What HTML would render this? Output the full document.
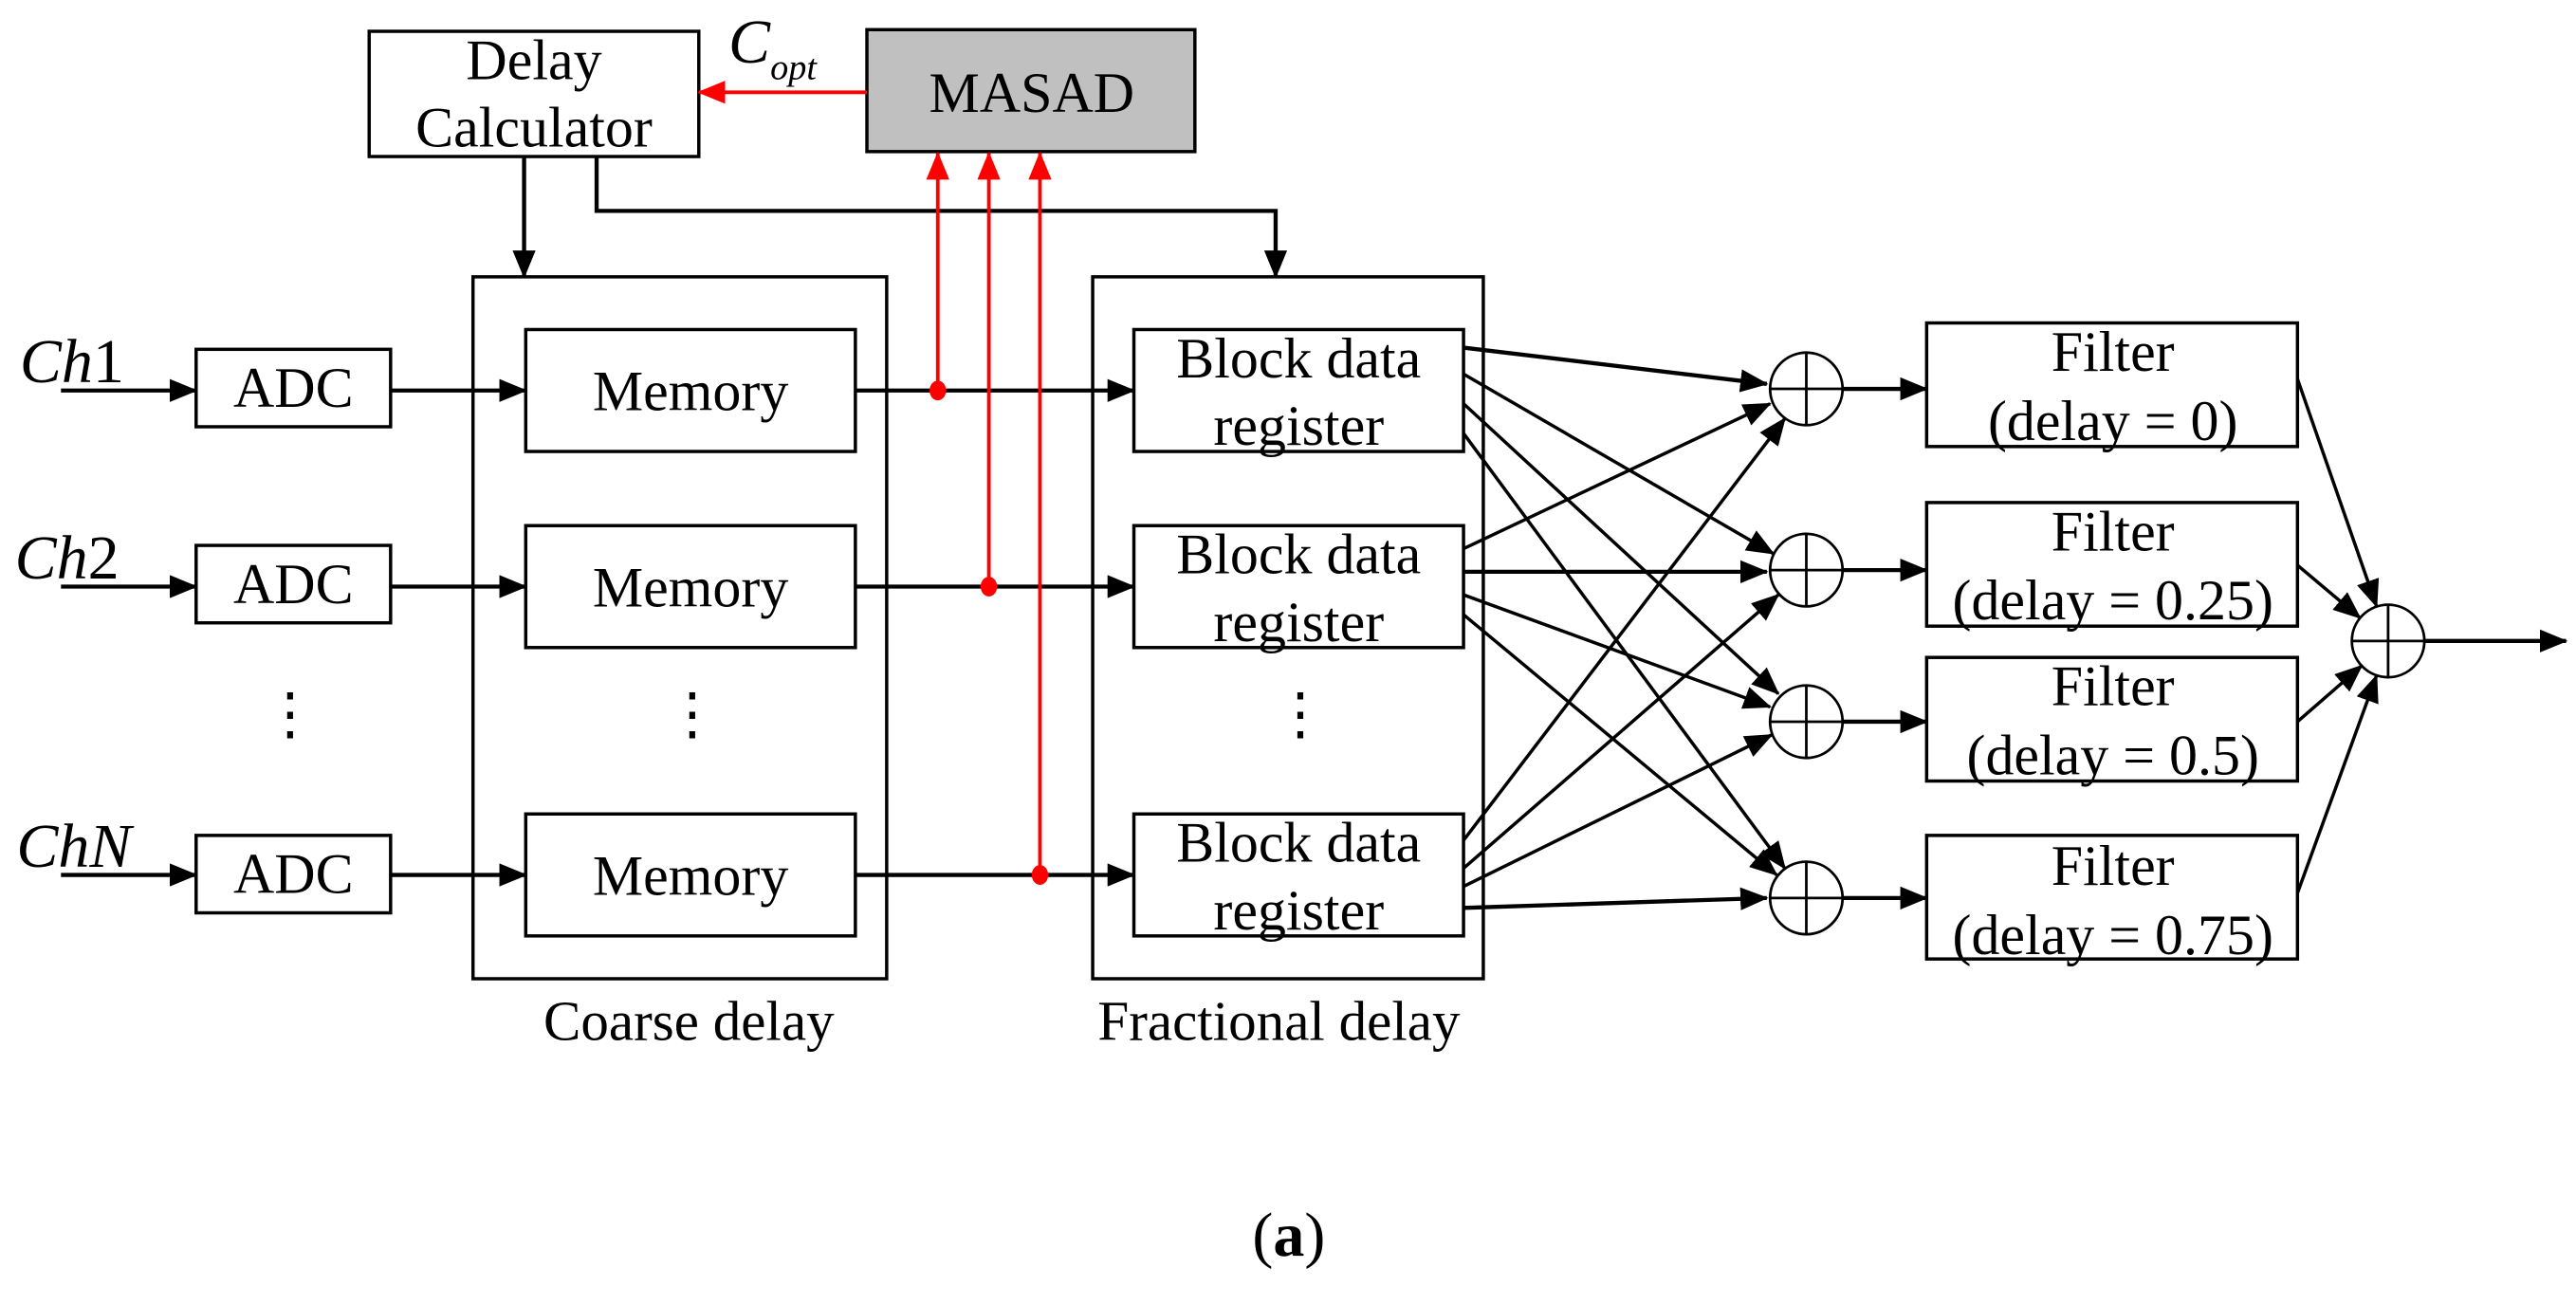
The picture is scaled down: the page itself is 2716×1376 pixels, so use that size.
<!DOCTYPE html>
<html><head><meta charset="utf-8"><style>
html,body{margin:0;padding:0;background:#fff;}
svg{display:block;}
text{font-family:"Liberation Serif",serif;fill:#000;}
</style></head><body>
<svg width="2716" height="1376" viewBox="0 0 1563 792" preserveAspectRatio="none" xmlns="http://www.w3.org/2000/svg">
<defs>
<marker id="a" markerUnits="userSpaceOnUse" markerWidth="17" markerHeight="14" refX="16" refY="7" orient="auto"><path d="M0,0 L17,7 L0,14 z" fill="#000"/></marker>
<marker id="r" markerUnits="userSpaceOnUse" markerWidth="17" markerHeight="14" refX="16" refY="7" orient="auto"><path d="M0,0 L17,7 L0,14 z" fill="#f00"/></marker>
</defs>
<g fill="none" stroke="#000" stroke-width="2">
<rect x="224" y="19" width="200" height="76"/>
<rect x="526" y="18" width="199" height="74" fill="#c0c0c0"/>
<rect x="287" y="168" width="251" height="426"/>
<rect x="663" y="168" width="237" height="426"/>
<rect x="319" y="200" width="200" height="74"/>
<rect x="319" y="319" width="200" height="74"/>
<rect x="319" y="494" width="200" height="74"/>
<rect x="688" y="200" width="200" height="74"/>
<rect x="688" y="319" width="200" height="74"/>
<rect x="688" y="494" width="200" height="74"/>
<rect x="119" y="212" width="118" height="47"/>
<rect x="119" y="331" width="118" height="47"/>
<rect x="119" y="507" width="118" height="47"/>
<rect x="1169" y="196" width="225" height="75"/>
<rect x="1169" y="305" width="225" height="75"/>
<rect x="1169" y="399" width="225" height="75"/>
<rect x="1169" y="507" width="225" height="75"/>
</g>
<g fill="none" stroke="#000" stroke-width="1.6">
<circle cx="1096" cy="236" r="22"/><path d="M1074,236H1118M1096,214V258"/>
<circle cx="1096" cy="346" r="22"/><path d="M1074,346H1118M1096,324V368"/>
<circle cx="1096" cy="438" r="22"/><path d="M1074,438H1118M1096,416V460"/>
<circle cx="1096" cy="545" r="22"/><path d="M1074,545H1118M1096,523V567"/>
<circle cx="1449" cy="389" r="22"/><path d="M1427,389H1471M1449,367V411"/>
</g>
<g stroke="#000" stroke-width="2.5" fill="none" marker-end="url(#a)">
<path d="M37,237H119"/><path d="M37,356H119"/><path d="M37,531H119"/>
<path d="M237,237H319"/><path d="M237,356H319"/><path d="M237,531H319"/>
<path d="M519,237H688"/><path d="M519,356H688"/><path d="M519,531H688"/>
<path d="M318,95V168"/>
<path d="M362,95V128H774V168"/>
<path d="M1118,236H1169"/><path d="M1118,346H1169"/><path d="M1118,438H1169"/><path d="M1118,545H1169"/>
<path d="M1471,389H1557"/>
<path d="M888,211L1072,233"/><path d="M888,347L1072,347"/><path d="M888,551L1072,545"/>
</g>
<g stroke="#000" stroke-width="2" fill="none" marker-end="url(#a)">
<path d="M888,227L1076,336"/>
<path d="M888,245L1079,421"/>
<path d="M888,263L1083,527"/>
<path d="M888,333L1074,245"/>
<path d="M888,361L1074,429"/>
<path d="M888,373L1078,531"/>
<path d="M888,510L1083,254"/>
<path d="M888,527L1079,361"/>
<path d="M888,538L1075,446"/>
<path d="M1394,230L1442,368"/>
<path d="M1394,343L1432,375"/>
<path d="M1394,438L1433,404"/>
<path d="M1394,542L1442,410"/>
</g>
<g stroke="#f00" stroke-width="2.2" fill="none" marker-end="url(#r)">
<path d="M526,56H424"/>
<path d="M569,237V93"/><path d="M600,356V93"/><path d="M631,531V93"/>
</g>
<g fill="#f00"><ellipse cx="569" cy="237" rx="5" ry="6"/><ellipse cx="600" cy="356" rx="5" ry="6"/><ellipse cx="631" cy="531" rx="5" ry="6"/></g>
<g font-size="34.5" text-anchor="middle">
<text x="324" y="48">Delay</text>
<text x="324" y="89">Calculator</text>
<text x="626" y="68">MASAD</text>
<text x="419" y="249">Memory</text>
<text x="419" y="368">Memory</text>
<text x="419" y="543">Memory</text>
<text x="788" y="229">Block data</text>
<text x="788" y="270">register</text>
<text x="788" y="348">Block data</text>
<text x="788" y="389">register</text>
<text x="788" y="523">Block data</text>
<text x="788" y="564">register</text>
<text x="178" y="247">ADC</text>
<text x="178" y="366">ADC</text>
<text x="178" y="542">ADC</text>
<text x="1282" y="225">Filter</text>
<text x="1282" y="267">(delay = 0)</text>
<text x="1282" y="334">Filter</text>
<text x="1282" y="376">(delay = 0.25)</text>
<text x="1282" y="428">Filter</text>
<text x="1282" y="470">(delay = 0.5)</text>
<text x="1282" y="537">Filter</text>
<text x="1282" y="579">(delay = 0.75)</text>
<text x="418" y="631" font-size="34">Coarse delay</text>
<text x="776" y="631" font-size="34">Fractional delay</text>
<text x="176" y="445">⋮</text>
<text x="420" y="445">⋮</text>
<text x="789" y="445">⋮</text>
<text x="782" y="762" font-size="38">(<tspan font-weight="bold">a</tspan>)</text>
</g>
<g font-size="38">
<text x="12" y="232"><tspan font-style="italic">Ch</tspan>1</text>
<text x="9" y="351"><tspan font-style="italic">Ch</tspan>2</text>
<text x="10" y="526" font-style="italic">ChN</text>
<text x="442" y="38" font-style="italic">C<tspan font-size="22" dy="10">opt</tspan></text>
</g>
</svg>
</body></html>
